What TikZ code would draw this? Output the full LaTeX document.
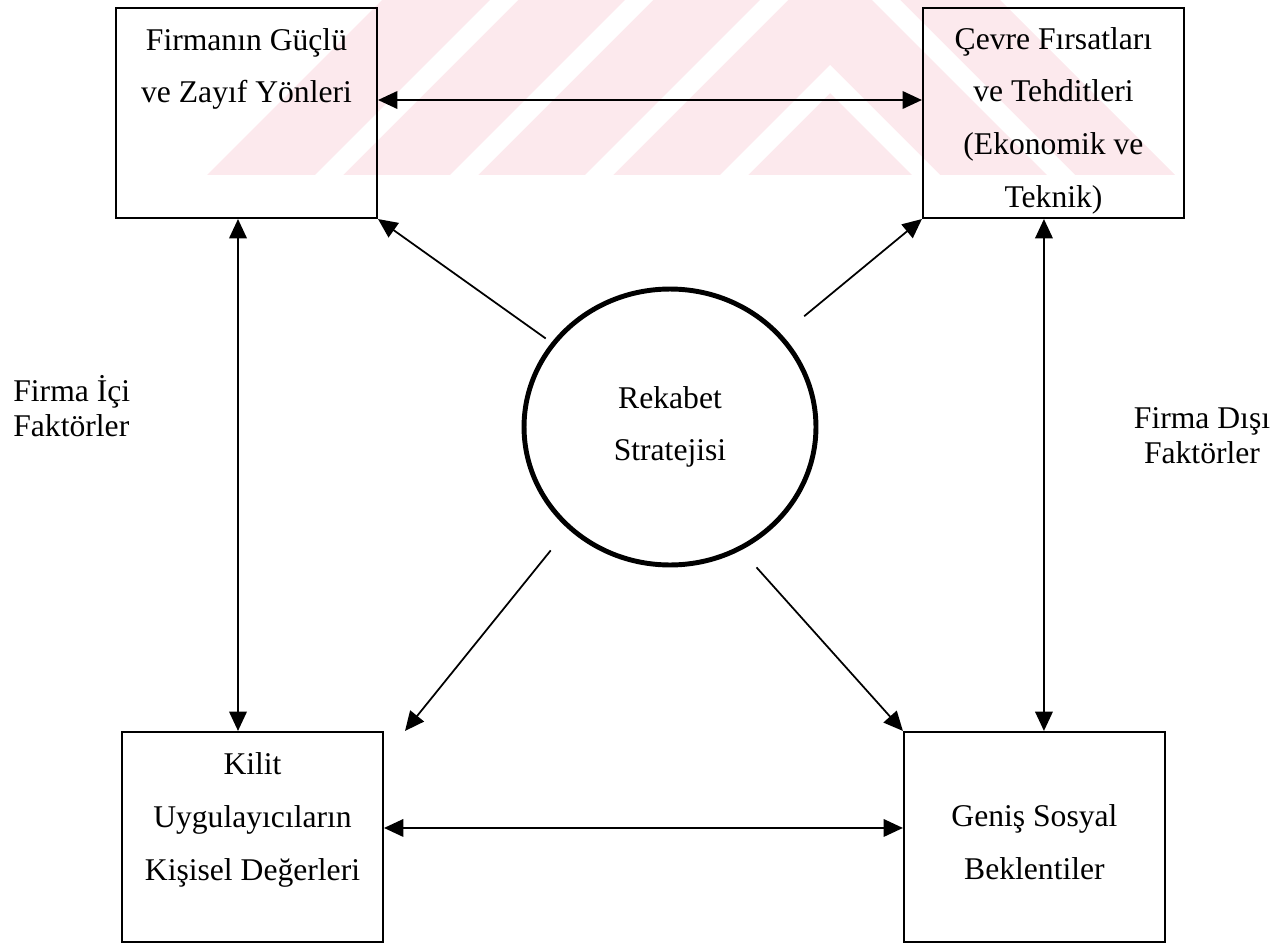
\documentclass[tikz,border=0pt]{standalone}
\usepackage{fontspec}
\setmainfont{Liberation Serif}
\usetikzlibrary{positioning, shapes.geometric, arrows.meta}
\definecolor{wmpink}{RGB}{252,233,237}
\newcommand{\boxtext}[2][0.84cm]{\parbox[c][4.2cm][t]{5.2cm}{\centering\rule{0pt}{#1}#2}}

\begin{document}
\begin{tikzpicture}[x=0.02cm, y=-0.02cm, font=\fontsize{18}{30}\selectfont]
		% Styles
		\tikzstyle{box} = [rectangle, draw, line width=1.2pt, inner sep=0pt,
		minimum width=5.22cm, minimum height=4.2cm]
		\tikzstyle{oval} = [ellipse, draw, line width=2.8pt, inner sep=0pt,
		minimum width=5.84cm, minimum height=5.52cm, align=center]
		\tikzstyle{side} = [inner sep=0pt, font=\fontsize{18}{20}\selectfont]
		\tikzstyle{both} = [draw, line width=1pt,
		{Triangle[length=11pt,width=10pt]}-{Triangle[length=11pt,width=10pt]}]
		\tikzstyle{one} = [draw, line width=1pt, -{Triangle[length=11pt,width=10pt]}]

		\useasboundingbox (0,0) rectangle (1278,943);

		% Watermark
		\begin{scope}
			\clip (207,175) -- (382,0) -- (1000,0) -- (1175,175) -- cycle;
			\fill [wmpink] (0,0) rectangle (1278,175);
			\begin{scope}
				\clip (0,0) rectangle (830,175);
				\foreach \x in {490,625,760,895}
				\fill [white] (\x,0) -- ++(28,0) -- ++(-175,175) -- ++(-28,0) -- cycle;
			\end{scope}
			\begin{scope}
				\clip (830,0) rectangle (1278,175);
				\foreach \x in {737,872}
				\fill [white] (\x,0) -- ++(28,0) -- ++(175,175) -- ++(-28,0) -- cycle;
			\end{scope}
		\end{scope}

		% Nodes
		\node [box] (firma) at (246.5,113) {\boxtext{Firmanın Güçlü\\ve Zayıf Yönleri}};
		\node [box, right=10.88cm of firma] (cevre) {\boxtext[0.82cm]{Çevre Fırsatları\\ve Tehditleri\\(Ekonomik ve\\Teknik)}};
		\node [box, below=10.24cm of firma, xshift=0.12cm] (kilit) {\boxtext[0.86cm]{Kilit\\Uygulayıcıların\\Kişisel Değerleri}};
		\node [box, below=10.24cm of cevre, xshift=-0.38cm] (sosyal) {\boxtext[1.9cm]{Geniş Sosyal\\Beklentiler}};
		\node [oval] (rekabet) at (670,427) {Rekabet\\Stratejisi};
		\node [side, anchor=west, align=left] (ici) at (13,406) {Firma İçi\\Faktörler};
		\node [side, align=center] (disi) at (1202,436) {Firma Dışı\\Faktörler};

		% Connections
		\coordinate (fc) at ([yshift=0.26cm]firma.east);
		\coordinate (ks) at ([yshift=0.18cm]kilit.east);
		\coordinate (fk) at ([xshift=-0.17cm]firma.south);
		\coordinate (cs) at ([xshift=-0.19cm]cevre.south);
		\path [both] (fc) -- (fc -| cevre.west);
		\path [both] (ks) -- (ks -| sosyal.west);
		\path [both] (fk) -- (fk |- kilit.north);
		\path [both] (cs) -- (cs |- sosyal.north);
		\path [one, shorten <=0.14cm] (rekabet) -- (firma.south east);
		\path [one, shorten <=0.58cm] (rekabet) -- (cevre.south west);
		\path [one, shorten <=0.55cm] (rekabet.225) -- ([xshift=0.42cm]kilit.north east);
		\path [one, shorten <=0.46cm] (rekabet.300) -- (sosyal.north west);
	\end{tikzpicture}
\end{document}
